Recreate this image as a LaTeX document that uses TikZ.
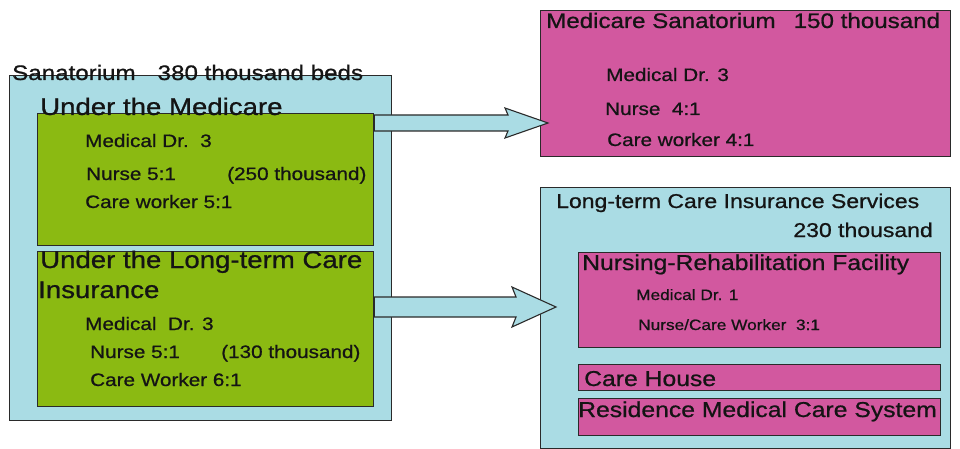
\documentclass[tikz,border=0pt]{standalone}
\usepackage{fontspec}
\setmainfont{Liberation Sans}[FakeStretch=1.15, FakeBold=0.8]
\usetikzlibrary{calc}
\definecolor{paleblue}{HTML}{AADCE4}
\definecolor{olive}{HTML}{8BBA12}
\definecolor{pinkbox}{HTML}{D2589F}
\definecolor{edge}{HTML}{2A2A2A}
\tikzset{
  box/.style={draw=edge, line width=1.4pt, anchor=north west, inner sep=0pt, rectangle},
  bluebox/.style={box, fill=paleblue},
  greenbox/.style={box, fill=olive},
  pinkrect/.style={box, fill=pinkbox},
  lbl/.style={anchor=base west, inner sep=0pt, text=black!92},
  big/.style={lbl, font=\fontsize{24}{28}\selectfont},
  head/.style={lbl, font=\fontsize{21}{25}\selectfont},
  small/.style={lbl, font=\fontsize{18}{21}\selectfont},
  tiny/.style={lbl, font=\fontsize{15}{18}\selectfont},
  inner/.style={lbl, font=\fontsize{21.5}{25}\selectfont},
  fatarrow/.style={draw=edge, line width=1.1pt, fill=paleblue, line join=miter}
}
\begin{document}
\begin{tikzpicture}[x=1pt, y=-1pt]
\useasboundingbox (0,0) rectangle (960,449);

% left column: sanatorium beds
\node[bluebox, minimum width=382pt, minimum height=345pt] (outer) at (9,75) {};
\node[greenbox, minimum width=336pt, minimum height=132pt] (med) at (37,113) {};
\node[greenbox, minimum width=336pt, minimum height=155pt] (ltc) at (37,251) {};

\node[head] (ttl) at (12,80) {Sanatorium\hspace{22pt}380 thousand beds};
\node[big] (medttl) at (40,115) {Under the Medicare};
\node[small] (m1) at (85,147) {Medical Dr.\ \ 3};
\node[small] (m2) at (86,180) {Nurse 5:1};
\node[small] (m3) at (227,180) {(250 thousand)};
\node[small] (m4) at (85,208) {Care worker 5:1};

\node[big] (ltcttl) at (40,268) {Under the Long-term Care};
\node[big] (ltcttl2) at (38,298) {Insurance};
\node[small] (l1) at (85,330) {Medical\ \ Dr. 3};
\node[small] (l2) at (90,358) {Nurse 5:1};
\node[small] (l3) at (221,358) {(130 thousand)};
\node[small] (l4) at (90,386) {Care Worker 6:1};

% right column: destinations
\node[pinkrect, minimum width=410pt, minimum height=146pt] (msan) at (540,10) {};
\node[head] (msanttl) at (546,28) {Medicare Sanatorium\hspace{18pt}150 thousand};
\node[small] (s1) at (606,81) {Medical Dr. 3};
\node[small] (s2) at (605,115) {Nurse\ \ 4:1};
\node[small] (s3) at (607,146) {Care worker 4:1};

\node[bluebox, minimum width=410pt, minimum height=261pt] (ltcs) at (540,187) {};
\node[lbl, font=\fontsize{20}{24}\selectfont] (ltcsttl) at (556,208) {Long-term Care Insurance Services};
\node[lbl, font=\fontsize{20}{24}\selectfont, anchor=base east] (ltcsnum) at (933,237) {230 thousand};

\node[pinkrect, minimum width=362pt, minimum height=95pt] (nrf) at (578,252) {};
\node[inner] (nrfttl) at (582,270) {Nursing-Rehabilitation Facility};
\node[tiny] (n1) at (636,300) {Medical Dr. 1};
\node[tiny] (n2) at (638,330) {Nurse/Care Worker\ \ 3:1};

\node[pinkrect, minimum width=362pt, minimum height=26pt] (ch) at (578,364) {};
\node[inner] (chttl) at (584,386) {Care House};

\node[pinkrect, minimum width=362pt, minimum height=37pt] (rmc) at (578,398) {};
\node[inner] (rmcttl) at (578,417) {Residence Medical Care System};

% block arrows between the columns
\coordinate (a1s) at (med.east |- 0,123);
\coordinate (a1t) at (548,123);
\draw[fatarrow] ([yshift=8]a1s) -- ([xshift=-40,yshift=8]a1t) -- ([xshift=-43,yshift=15]a1t)
  -- (a1t) -- ([xshift=-43,yshift=-15]a1t) -- ([xshift=-40,yshift=-8]a1t) -- ([yshift=-8]a1s) -- cycle;

\coordinate (a2s) at (ltc.east |- 0,307);
\coordinate (a2t) at (556,307);
\draw[fatarrow] ([yshift=10]a2s) -- ([xshift=-40,yshift=10]a2t) -- ([xshift=-44,yshift=20]a2t)
  -- (a2t) -- ([xshift=-44,yshift=-20]a2t) -- ([xshift=-40,yshift=-10]a2t) -- ([yshift=-10]a2s) -- cycle;
\end{tikzpicture}
\end{document}
